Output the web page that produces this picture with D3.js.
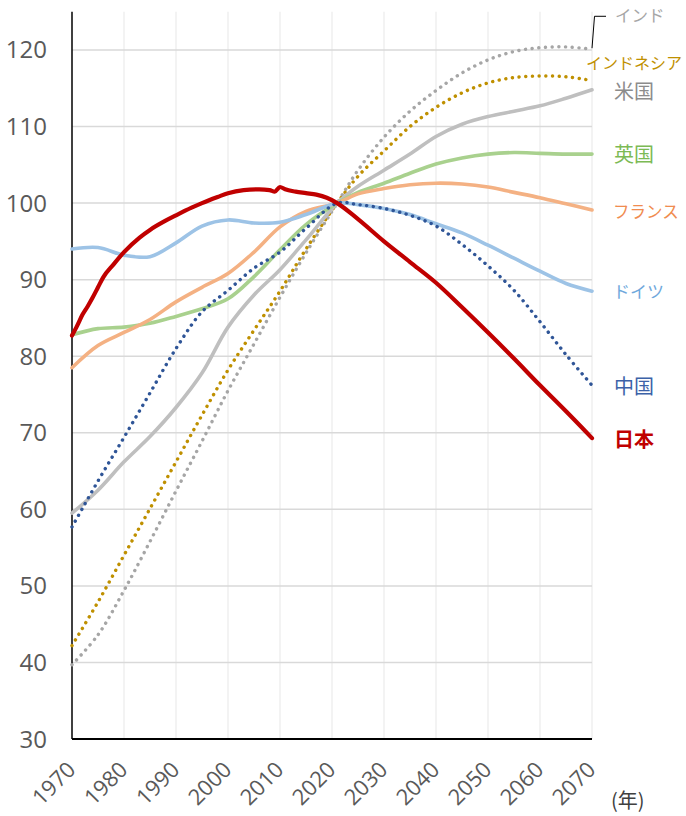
<!DOCTYPE html>
<html>
<head>
<meta charset="utf-8">
<script src="https://cdn.jsdelivr.net/npm/d3@7"></script>
<style>
  body { margin: 0; background: #fff; }
  svg { display: block; }
</style>
</head>
<body>
<div id="chart"></div>
<script>
// 5-year grid (base year 2021 = 100)
const years = [1970, 1975, 1980, 1985, 1990, 1995, 2000, 2005, 2010, 2015, 2021, 2025, 2030, 2035, 2040, 2045, 2050, 2055, 2060, 2065, 2070];

const india     = [39.7, 43.6, 49.4, 55.8, 62.4, 68.9, 75.5, 81.6, 87.7, 93.5, 100, 104.3, 108.6, 112.0, 114.7, 117.0, 118.7, 119.8, 120.3, 120.4, 120.1];
const indonesia = [42.2, 47.9, 54.0, 60.1, 66.2, 72.3, 78.2, 83.4, 88.5, 94.0, 100, 103.5, 106.8, 110.0, 112.5, 114.4, 115.7, 116.4, 116.6, 116.5, 116.0];
const usa       = [59.5, 62.5, 66.2, 69.5, 73.3, 77.8, 83.8, 88.0, 91.3, 95.2, 100, 102.2, 104.3, 106.4, 108.7, 110.3, 111.3, 112.0, 112.7, 113.7, 114.8];
const uk        = [82.8, 83.6, 83.8, 84.3, 85.2, 86.2, 87.5, 90.4, 93.9, 97.2, 100, 101.4, 102.6, 103.9, 105.1, 105.9, 106.4, 106.6, 106.5, 106.4, 106.4];
const france    = [78.5, 81.4, 83.1, 84.8, 87.1, 89.0, 90.8, 93.6, 96.9, 98.9, 100, 101.2, 101.9, 102.4, 102.6, 102.5, 102.1, 101.4, 100.7, 99.9, 99.1];
const germany   = [94.0, 94.2, 93.2, 93.0, 94.8, 97.0, 97.8, 97.4, 97.5, 98.5, 100, 99.8, 99.3, 98.5, 97.3, 96.1, 94.5, 92.8, 91.1, 89.5, 88.5];
const china     = [57.7, 63.7, 69.4, 75.2, 81.0, 85.8, 88.6, 91.5, 93.6, 96.7, 100, 99.8, 99.3, 98.4, 97.0, 94.6, 91.8, 88.6, 84.5, 80.2, 76.2];

// Japan has finer detail (actuals then projection)
const japanYears = [1970, 1971, 1972, 1973, 1974, 1975, 1976, 1978, 1980, 1983, 1985, 1988, 1990, 1993, 1995, 1998, 2000, 2003, 2006, 2008, 2009, 2010, 2011, 2013, 2015, 2017, 2019, 2021, 2025, 2030, 2035, 2040, 2045, 2050, 2055, 2060, 2065, 2070];
const japan      = [82.7, 84.0, 85.4, 86.5, 87.7, 89.0, 90.3, 92.0, 93.6, 95.5, 96.5, 97.7, 98.4, 99.4, 100.0, 100.8, 101.3, 101.7, 101.8, 101.7, 101.5, 102.1, 101.8, 101.5, 101.3, 101.1, 100.7, 100, 97.9, 95.0, 92.3, 89.6, 86.4, 83.1, 79.7, 76.2, 72.8, 69.3];

const names = ["インド", "インドネシア", "米国", "英国", "フランス", "ドイツ", "中国", "日本"];
const yTicks = [30, 40, 50, 60, 70, 80, 90, 100, 110, 120];
const xTicks = [1970, 1980, 1990, 2000, 2010, 2020, 2030, 2040, 2050, 2060, 2070];

const W = 686, H = 816;
const x = d3.scaleLinear().domain([1970, 2070]).range([72, 592]);
const y = d3.scaleLinear().domain([30, 125]).range([739, 11.7]);

const svg = d3.select("#chart").append("svg").attr("width", W).attr("height", H);

// gridlines
svg.append("g").selectAll("line").data(xTicks.slice(1)).join("line")
  .attr("x1", d => x(d)).attr("x2", d => x(d))
  .attr("y1", y(125)).attr("y2", y(30))
  .attr("stroke", "#efefef").attr("stroke-width", 1.5);
svg.append("g").selectAll("line").data(yTicks.slice(1)).join("line")
  .attr("x1", x(1970)).attr("x2", x(2070))
  .attr("y1", d => y(d)).attr("y2", d => y(d))
  .attr("stroke", "#d9d9d9").attr("stroke-width", 1.5);

// axes lines
svg.append("line").attr("x1", x(1970)).attr("x2", x(1970)).attr("y1", y(125)).attr("y2", y(30))
  .attr("stroke", "#000").attr("stroke-width", 1.5);
svg.append("line").attr("x1", x(1970)).attr("x2", x(2070)).attr("y1", y(30)).attr("y2", y(30))
  .attr("stroke", "#000").attr("stroke-width", 1.8);

// tick labels
svg.append("g").selectAll("text").data(yTicks).join("text")
  .attr("x", 47).attr("y", d => y(d) + 8.5)
  .attr("text-anchor", "end")
  .attr("font-family", "Open Sans, sans-serif")
  .attr("font-size", 24).attr("fill", "#595959")
  .text(d => d);

svg.append("g").selectAll("text").data(xTicks).join("text")
  .attr("transform", d => `translate(${x(d) + 5},771) rotate(-45)`)
  .attr("text-anchor", "end")
  .attr("font-family", "Open Sans, sans-serif")
  .attr("font-size", 22).attr("fill", "#595959")
  .text(d => d);

svg.append("text").attr("x", 611).attr("y", 808)
  .attr("font-family", "Noto Sans CJK JP, sans-serif")
  .attr("font-size", 20).attr("fill", "#404040")
  .text("(年)");

// series styles and label placement (label y in data units)
const lineStyles = [
  { values: india,     color: "#a6a6a6", dotted: true,  width: 3.4, label: "#a6a6a6", ly: 124.4, lx: 615, fs: 16.5 },
  { values: indonesia, color: "#bf9000", dotted: true,  width: 3.4, label: "#bf9000", ly: 118.3, lx: 586, fs: 16 },
  { values: usa,       color: "#bfbfbf", dotted: false, width: 3.6, label: "#8c8c8c", ly: 114.5, lx: 614, fs: 20 },
  { values: uk,        color: "#a9d18e", dotted: false, width: 3.6, label: "#7cba55", ly: 106.3, lx: 614, fs: 20 },
  { values: france,    color: "#f4b183", dotted: false, width: 3.6, label: "#f08c50", ly: 98.8,  lx: 613, fs: 16.5 },
  { values: germany,   color: "#9dc3e6", dotted: false, width: 3.6, label: "#6fa8dc", ly: 88.4,  lx: 613, fs: 17 },
  { values: china,     color: "#2f5597", dotted: true,  width: 3.4, label: "#3c62a8", ly: 76.0,  lx: 614, fs: 20 },
  { values: japan,     color: "#c00000", dotted: false, width: 4.2, label: "#c00000", ly: 69.1,  lx: 614, fs: 20, bold: true, yrs: japanYears }
];

const smooth = d3.line().x(d => x(d[0])).y(d => y(d[1])).curve(d3.curveCatmullRom.alpha(0.5));
const jagged = d3.line().x(d => x(d[0])).y(d => y(d[1])).curve(d3.curveMonotoneX);

lineStyles.forEach((s, i) => {
  const yrs = s.yrs || years;
  const pts = yrs.map((yr, j) => [yr, s.values[j]]);
  svg.append("path")
    .attr("d", s.yrs ? jagged(pts) : smooth(pts))
    .attr("fill", "none")
    .attr("stroke", s.color)
    .attr("stroke-width", s.width)
    .attr("stroke-linecap", "round")
    .attr("stroke-linejoin", "round")
    .attr("stroke-dasharray", s.dotted ? "0.1 6.6" : null);

  svg.append("text")
    .attr("x", s.lx).attr("y", y(s.ly))
    .attr("dy", "0.36em")
    .attr("font-family", "Noto Sans CJK JP, sans-serif")
    .attr("font-size", s.fs)
    .attr("font-weight", s.bold ? "bold" : "normal")
    .attr("fill", s.label)
    .text(names[i]);
});

// leader line for インド label
const lastIndia = india[india.length - 1];
svg.append("path")
  .attr("d", `M${x(2070)},${y(lastIndia) - 1} L${x(2070) + 2.5},${y(124.4)} L${x(2070) + 14},${y(124.4)}`)
  .attr("fill", "none").attr("stroke", "#000").attr("stroke-width", 1);
</script>
</body>
</html>
